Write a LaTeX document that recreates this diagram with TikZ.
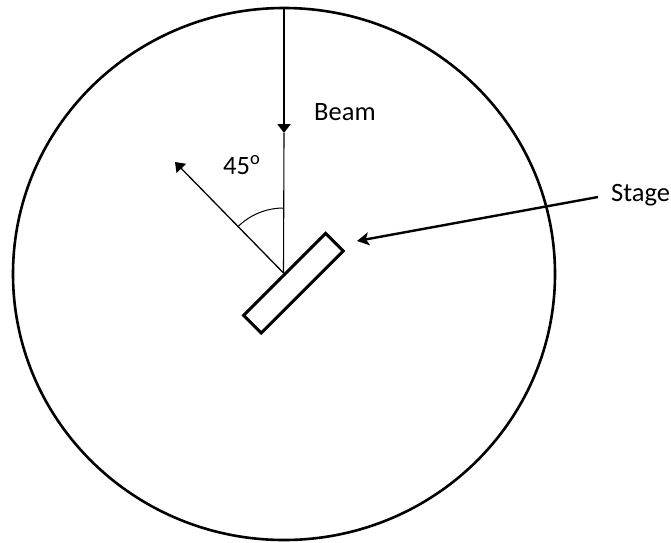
\documentclass[tikz,border=0pt]{standalone}
\usepackage{fontspec}
\setmainfont{Carlito}
\usetikzlibrary{shapes.geometric,arrows.meta}
\begin{document}
\begin{tikzpicture}[x=1pt,y=-1pt,
  lbl/.style={inner sep=0pt,font=\fontsize{26.5}{30}\selectfont},
  headtip/.style={-{Triangle[length=9pt,width=13pt]}},
  stagetip/.style={-{Stealth[length=12pt,width=13pt,inset=3pt]}}]
\useasboundingbox (0,0) rectangle (671,542);
% chamber
\node[draw,ellipse,line width=2.6pt,inner sep=0pt,minimum width=542pt,minimum height=532pt] (chamber) at (284,274) {};
% stage
\node[draw,line width=3pt,inner sep=0pt,minimum width=116pt,minimum height=25pt,rotate=45] (stage) at (293.4,283.2) {};
\coordinate (hit) at (283.5,273);
\coordinate (beamtip) at (284,133);
\coordinate (outtip) at (175,162);
% beam
\draw[line width=2.4pt,headtip] (chamber.north) -- (beamtip);
\draw[line width=1.1pt] (beamtip) -- (hit);
\draw[line width=1.3pt,headtip] (hit) -- (outtip);
\draw[line width=1pt] ([shift={(0,-65)}]hit) arc[start angle=-90,end angle=-135,radius=65];
% labels
\node[lbl,anchor=base west] (beam) at (314,120) {Beam};
\node[lbl,anchor=base west] (ang) at (223,174) {45\textsuperscript{o}};
\node[lbl,anchor=base west] (stagelbl) at (611,201) {Stage};
\coordinate (sfrom) at (598,197);
\draw[line width=2.4pt,stagetip] (sfrom) -- (357,241);
\end{tikzpicture}
\end{document}
